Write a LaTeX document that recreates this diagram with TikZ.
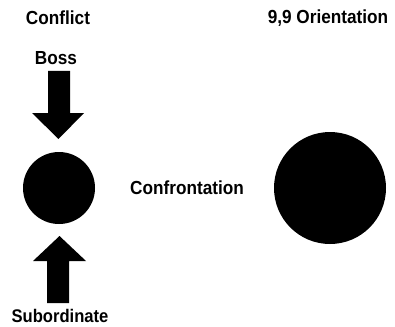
\documentclass[tikz,border=0pt]{standalone}
\usepackage{fontspec}
\setmainfont{Liberation Sans}
\newcommand{\tallt}[1]{\scalebox{1}[1.1]{#1}}
\begin{document}
\begin{tikzpicture}[x=1pt,y=-1pt,
  lbl/.style={font=\fontsize{17.2}{19}\selectfont\bfseries, inner sep=0pt},
  dot/.style={circle, fill=black, inner sep=0pt},
  bigarrow/.style={fill=black}]
\useasboundingbox (0,0) rectangle (395,326);
\node[lbl] (conflict) at (58,18) {\tallt{Conflict}};
\node[lbl] (orient) at (328,18) {\tallt{9,9 Orientation}};
\node[lbl] (boss) at (56,58) {\tallt{Boss}};
\node[lbl, font=\fontsize{16.6}{19}\selectfont\bfseries] (sub) at (60,316) {\tallt{Subordinate}};
\node[lbl] (confr) at (187,188) {\tallt{Confrontation}};
\node[dot, minimum size=72pt] (small) at (59,188) {};
\node[dot, minimum size=112pt] (big) at (330,188) {};
\fill[bigarrow] (48,71) -- (70,71) -- (70,113) -- (84,113) -- (58.5,139) -- (32,113) -- (48,113) -- cycle;
\fill[bigarrow] (47,303) -- (69,303) -- (69,261) -- (86,261) -- (59.5,236) -- (33,261) -- (47,261) -- cycle;
\end{tikzpicture}
\end{document}
